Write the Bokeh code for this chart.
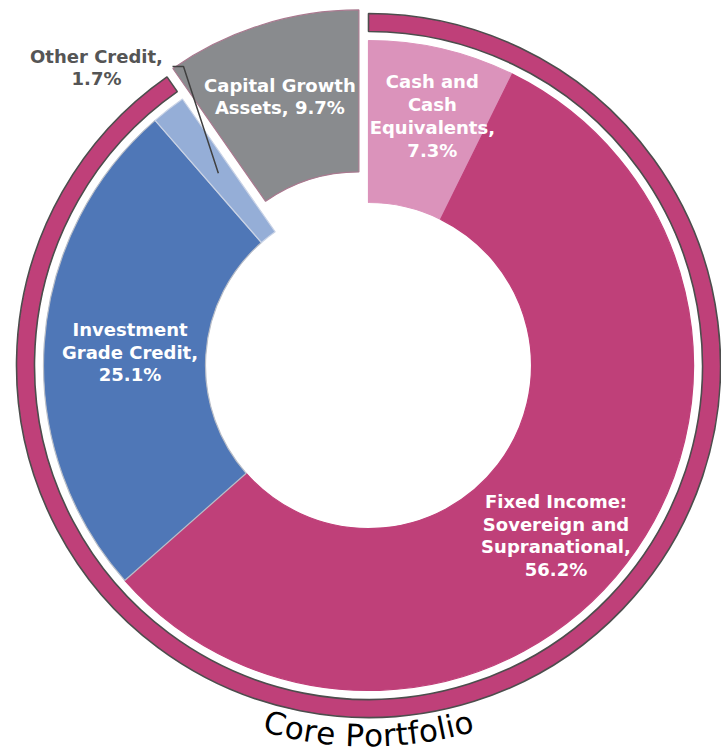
import numpy as np
from bokeh.plotting import figure
from bokeh.models import ColumnDataSource, Range1d
from bokeh.embed import file_html
from bokeh.resources import INLINE
from bokeh.core.properties import value

# ---------------- data ----------------
categories = ["Cash and Cash Equivalents",
              "Fixed Income: Sovereign and Supranational",
              "Investment Grade Credit",
              "Other Credit",
              "Capital Growth Assets"]
shares = [7.3, 56.2, 25.1, 1.7, 9.7]
labels = ["Cash and\nCash\nEquivalents,\n7.3%",
          "Fixed Income:\nSovereign and\nSupranational,\n56.2%",
          "Investment\nGrade Credit,\n25.1%",
          "Other Credit,\n1.7%",
          "Capital Growth\nAssets, 9.7%"]
in_core = [True, True, True, True, False]
ring_title = "Core Portfolio"

# ---------------- style / layout ----------------
W, H = 721, 754
cx, cy = 368, 389
R_IN, R_OUT = 163, 325
RING_IN, RING_OUT = 334, 352
EXPLODE = 32
LABEL_R = 250
fills = ["#DB93BB", "#BF4079", "#4F77B7", "#95AED7", "#898B8E"]
lines = ["#DB93BB", "#BF4079", "#B9BEC8", "#C9D3E6", "#A9798F"]
exploded = [False, False, False, False, True]
label_nudge = [(7, 6), (-11, -18), (11, -3), None, (-4, 0)]
FONT = "DejaVu Sans"
LH = 1.09

p = figure(width=W, height=H, x_range=Range1d(0, W), y_range=Range1d(0, H),
           output_backend="svg", toolbar_location=None,
           x_axis_location=None, y_axis_location=None,
           min_border=0, outline_line_color=None)
p.grid.visible = False

vals = np.array(shares, dtype=float)
cum = np.concatenate([[0.0], np.cumsum(vals)]) / vals.sum() * 360.0
th0, th1 = cum[:-1], cum[1:]
mid = (th0 + th1) / 2.0

# outer ring for core portfolio
core_end = sum(v for v, c in zip(shares, in_core) if c) / vals.sum() * 360.0
p.annular_wedge(x=cx, y=cy, inner_radius=RING_IN, outer_radius=RING_OUT,
                start_angle=np.radians(90.0), end_angle=np.radians(90.0 - core_end),
                direction="clock", fill_color="#BF4079",
                line_color="#4D4D4D", line_width=1.6)

# wedges
xs, ys = [], []
for m, e in zip(mid, exploded):
    d = EXPLODE if e else 0.0
    xs.append(cx + d * np.sin(np.radians(m)))
    ys.append(cy + d * np.cos(np.radians(m)))
src = ColumnDataSource(dict(x=xs, y=ys, cat=categories,
                            start=np.radians(90.0 - th0), end=np.radians(90.0 - th1),
                            fill=fills, line=lines))
p.annular_wedge(x="x", y="y", inner_radius=R_IN, outer_radius=R_OUT,
                start_angle="start", end_angle="end", direction="clock",
                fill_color="fill", line_color="line", line_width=1.2, source=src)

# inside labels
lx, ly, lt = [], [], []
for i, lab in enumerate(labels):
    if label_nudge[i] is None:
        continue
    m = np.radians(mid[i])
    lx.append(xs[i] + LABEL_R * np.sin(m) + label_nudge[i][0])
    ly.append(ys[i] + LABEL_R * np.cos(m) + label_nudge[i][1])
    lt.append(lab)
p.text(x=lx, y=ly, text=lt, text_color="white", text_font=value(FONT),
       text_font_style="bold", text_font_size="18px", text_align="center",
       text_baseline="middle", text_line_height=LH)

# outside label with leader (Other Credit)
oi = 3
m = np.radians(mid[oi])
px0 = cx + 244 * np.sin(m)
py0 = cy + 244 * np.cos(m)
elbow = (cx - 185, cy + 299)
end = (cx - 196, cy + 299)
p.line(x=[px0, elbow[0], end[0]], y=[py0, elbow[1], end[1]],
       line_color="#404040", line_width=1.5)
p.text(x=[cx - 272], y=[cy + 298], text=[labels[oi]], text_color="#555555",
       text_font=value(FONT), text_font_style="bold", text_font_size="18px",
       text_align="center", text_baseline="middle", text_line_height=LH)

# curved "Core Portfolio" title along the bottom of the ring
adv = {"C": .698, "o": .612, "r": .411, "e": .615, " ": .318, "P": .603,
       "t": .392, "f": .352, "l": .278, "i": .278}
FS = 31
R_TXT = 370
widths = np.array([adv.get(ch, .6) * FS for ch in ring_title])
centers = np.cumsum(widths) - widths / 2.0 - widths.sum() / 2.0
alphas = -np.pi / 2 + centers / R_TXT
tx = cx + R_TXT * np.cos(alphas)
ty = cy + R_TXT * np.sin(alphas)
p.text(x=tx, y=ty, text=list(ring_title), angle=alphas + np.pi / 2,
       text_color="#000000", text_font=value(FONT), text_font_size=f"{FS}px",
       text_align="center", text_baseline="middle")

open("out.html", "w").write(file_html(p, INLINE))
